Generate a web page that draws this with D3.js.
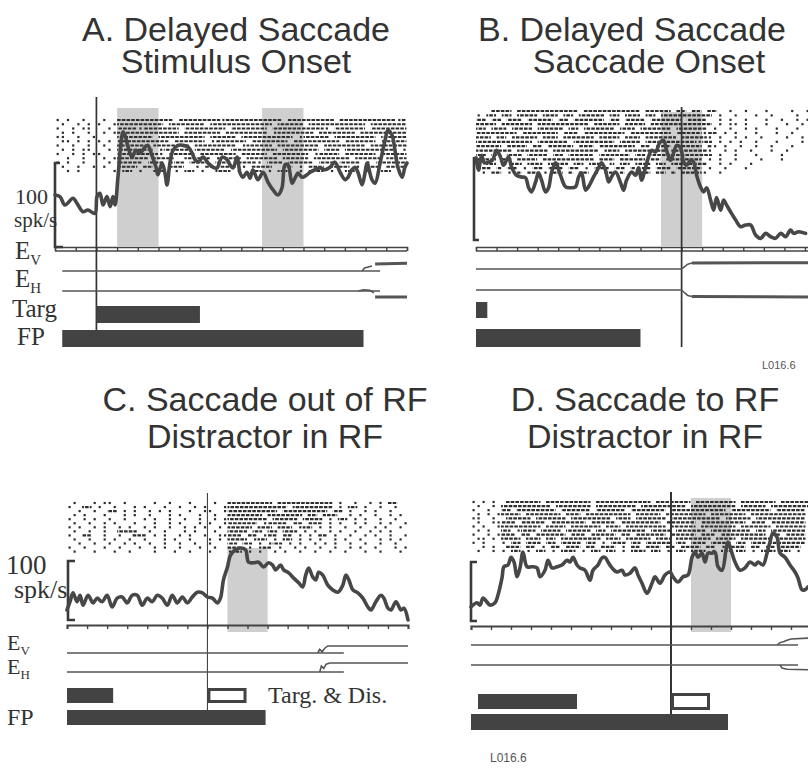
<!DOCTYPE html>
<html><head><meta charset="utf-8">
<script src="https://cdn.jsdelivr.net/npm/d3@7"></script>
<style>body{margin:0;background:#fff}svg{display:block}</style>
</head><body>
<svg id="c" width="808" height="768"></svg>
<script>
// ---------------- DATA ----------------
const titles = [["A. Delayed Saccade","Stimulus Onset"],["B. Delayed Saccade","Saccade Onset"],["C. Saccade out of RF","Distractor in RF"],["D. Saccade to RF","Distractor in RF"]];
const binMs = 25;
// spike density functions [time ms, spikes/s]
const sdfA = [[-200,62],[-176,60],[-152,50],[-113,58],[-94,52],[-65,42],[-41,44],[-7,40],[3,60],[17,64],[32,50],[51,60],[66,48],[80,60],[90,50],[104,83],[119,124],[128,137],[138,133],[153,119],[172,107],[191,115],[211,112],[235,119],[249,121],[268,109],[288,95],[297,86],[317,100],[331,88],[341,74],[355,100],[370,115],[394,121],[418,121],[442,119],[462,112],[476,104],[491,101],[515,107],[539,100],[563,95],[582,94],[607,107],[631,104],[645,98],[660,94],[679,107],[694,88],[708,83],[727,89],[742,82],[756,92],[780,80],[805,89],[829,77],[853,68],[877,62],[896,70],[911,98],[925,98],[945,76],[959,82],[974,88],[993,83],[1017,86],[1032,89],[1056,92],[1080,94],[1104,92],[1128,95],[1152,101],[1177,89],[1201,80],[1215,83],[1234,92],[1249,95],[1263,89],[1283,74],[1297,88],[1307,100],[1331,80],[1346,76],[1370,100],[1394,127],[1408,139],[1428,133],[1442,115],[1457,94],[1476,83],[1490,95],[1500,100]];
const sdfB = [[-1000,99],[-988,84],[-973,102],[-959,93],[-939,94],[-920,96],[-900,108],[-881,100],[-866,90],[-842,100],[-827,88],[-803,78],[-779,76],[-759,75],[-744,63],[-730,58],[-710,70],[-696,81],[-681,72],[-662,58],[-647,63],[-633,81],[-613,93],[-589,78],[-564,64],[-540,63],[-516,64],[-501,76],[-487,81],[-467,60],[-453,64],[-428,76],[-404,87],[-389,93],[-370,84],[-355,70],[-341,76],[-321,82],[-297,69],[-282,60],[-268,72],[-243,82],[-224,78],[-209,87],[-195,72],[-175,88],[-161,100],[-146,108],[-127,106],[-107,117],[-88,120],[-73,108],[-54,96],[-39,105],[-24,114],[-5,111],[10,94],[24,90],[44,96],[58,94],[73,78],[92,64],[107,58],[122,63],[141,48],[156,36],[170,51],[190,36],[204,48],[219,42],[238,34],[263,24],[287,16],[311,18],[336,18],[360,6],[384,2],[409,8],[433,4],[457,2],[482,8],[506,4],[530,12],[545,8],[569,10],[603,8]];
const sdfC = [[-700,17],[-685,31],[-670,46],[-650,31],[-635,42],[-620,25],[-595,42],[-570,29],[-550,37],[-525,31],[-500,42],[-475,22],[-450,37],[-425,39],[-400,29],[-375,42],[-350,42],[-325,25],[-300,37],[-275,31],[-250,42],[-225,37],[-200,25],[-175,42],[-150,29],[-125,39],[-100,29],[-75,39],[-50,47],[-25,46],[0,39],[25,37],[50,29],[65,37],[80,68],[100,90],[115,110],[140,119],[165,122],[190,119],[205,98],[230,97],[255,98],[280,90],[305,97],[325,93],[340,85],[365,93],[380,85],[405,80],[430,71],[455,63],[475,56],[490,76],[505,88],[525,73],[540,68],[555,81],[575,76],[600,59],[625,51],[650,47],[675,59],[690,76],[705,68],[725,51],[750,46],[775,37],[800,22],[815,17],[840,31],[865,42],[880,37],[900,20],[915,17],[940,31],[965,17],[980,20],[1000,0]];
const sdfD = [[-1000,24],[-970,31],[-955,27],[-940,39],[-920,32],[-905,27],[-880,31],[-865,44],[-845,73],[-835,92],[-815,95],[-800,108],[-785,100],[-770,75],[-755,90],[-740,117],[-720,92],[-695,92],[-670,90],[-655,75],[-630,86],[-615,103],[-595,90],[-570,92],[-545,95],[-520,103],[-505,100],[-490,108],[-470,95],[-455,90],[-430,86],[-405,69],[-390,86],[-365,95],[-345,107],[-330,108],[-315,100],[-295,90],[-270,83],[-245,86],[-230,78],[-205,81],[-180,90],[-165,78],[-145,64],[-120,47],[-95,64],[-80,75],[-55,64],[-30,78],[-5,83],[10,75],[35,66],[60,75],[85,78],[105,108],[120,117],[135,108],[155,115],[170,100],[185,115],[205,115],[220,117],[235,92],[255,86],[275,120],[285,134],[305,115],[320,100],[345,86],[370,90],[395,100],[420,95],[435,100],[460,95],[480,115],[495,134],[510,149],[530,142],[545,115],[570,108],[595,95],[620,83],[635,73],[655,53],[670,53],[685,58]];

// rasters: one string per trial, one char per 25 ms bin ('#' burst of spikes, '.' single spike)
const rasterA_pre = [". .  .  ."," .  . . ",".  . .. "," . .  . ","..  .  ."," .. . . ",".  .  . "," . . .. ",".  . . .","  .  .  ",". .  .  "," .  .  .","  . .   "];
const rasterA_lat = [" .  ",".  .","  . "," . .","    ",". . "," .  ","  . ",".   "," . .","  . "," .  ","   ."];
const rasterA_resp = ["########### ########.########### ######### ###########.#","######### ####### ############ ##### ########### #######","####.####### ######## ####### ##########. ###### #######","############ ####### ######## .####### ####### #########","####### ######### ##### ########## .##### ######## #####","########## ###### .###### ####### ######### ###### #####","###### ####### ######## .##### ######## ######## #######","####### .##### ###### ######### ####### ### ########## .","########. ##### ####### ##### ####### .#### ###### #####","###### ####  ##### .#### ###### ##### ####### ##### ####","##### ### .## #### ### ####. ### ##### ### #### . ######","#### ## . ###  . ## ### . ####  ## . ### #### .  ## ####"," ## .  ##  . ## .  ### .  ## . ##  . ### .  ##  .  ## . "];
const rasterB_pre = ["   #### ############ ########### ##### ## ##",". ## ## #### ### ## ##### ## ### ## ########","## ## ### ##### ## ###### ## #### ###### ###","#### ###### ########## ##### #### ##########","## ### #### ##### ## ###### ### ###### #####","######## ####### ### ######## ######## #####","### ## ##### ### ###### #### ### ###### ####","########### ###### ######## #### ##########.","##### #### ## ##### ### ####### ## ### #####","####### ###### ######### ### ######## ######","## ## ### #### ## ##### ###### ## ##########","#### ## #### ########## ### ##### ## #######",". ## # ## ### #### ## ### # ## ### ## ######","### # ## . ## ### ## . ### ## # ## ### #####"," . ## . # ## . ## # ## . ## # . ## ## # ####"];
const rasterB_post = [" ##  .  .   .    .  . ","## .  .   .  .    .  .","#  . .  .   .  .  . . ","## . .. .   .   .  .  ","# .  .  . .   .   .  .",".## . .   .   .  .    ","#. .  . .  .    .  .  ","## . . .  .   .    . ."," #. .  .  .  .   .    ","#.  . .  .   .  .     ","## .  .   .    .      "," . .  .    .   .      ","#  . .   .            "," .  .   .             ",".  .                  "];
const rasterC_pre = [" .   . ..  .     .  .   .    .  ",".  ## .  .   . .   .  .  . .   .","  .  .  ## . .  . . .   .  ..  ."," . .   .   . .  .   . .   .  . ",".  . .  .  .   . .  .  .  .  . ."," .  .  . .   .   .  . .   . .  .",". .  . .  . .  . .  .  . . .  . "," .  .  .  ####  .  .   . .   .  ",".  ##  .  .  ### . .  . .  .  .."," .  .  . .  .  .   . .  .   . .","  .  .  .  . .  .  .  .  .  .  ",".  .   .  .   .  . .  .   .  . "," .   .   .  .    .   .  .   .  "];
const rasterC_post = ["######### ########### .  .  . . ##  ","############ ######## . ## .  .  .  ","########## ######### ## .  . .  .   ","####### ####### ## ###  . .  .  . . ","######## ##### #### . ## . .  .  .  ","###### .#### ## ### . .  . .  . .  .","##### ### ### .## . .  .  .  . .  . ","#### ## ## ### . .  . .  .  . . .  ","### ## .## ## . . ## .  .  . .  .  .","#### .## . ## . . .  . .  .   . . . ","## ## . .## . .  . . .  .  .  .  .  ","### . .## .  . .  .  .  . .  .   . .",".## . .  . .  .  .  .  .   .  .   . "];
const rasterD_pre = [". . . "," .  . ",".  .  "," . . .","..  . "," .  ..",". .  ."," . .  ",".  . ."," .. . ",". .   ","  . . "," .  . "];
const rasterD_post = [" ####### ######### ########### ####### ######## ####### ######","########## ####### ######## ######### ######### ##### ########","## ######## ###### ###### ####### ########### ######## ######","#### ####### ### ######### ##### ######## ####### ###########"," ##### ###### ######## ### ###### ########## ##### ##########","### ##### ####### ##### ######## ###### ######### ### #######","######## #### ###### ### ######## ##### ####### ###### ######","## .### #### ##### ## ####### #### ###### ######## ## #######","### ## ###### ### ##### ## ###### ##### ### ######### ## ####","#### ### ## ######## ### ##### ### ####### #### ###### ######",". ## ### ## #### ## . ### ## ##### ## ### #### ## ### #######"," ### ## . ## ### ## ### . ## ### ## #### ## . ### ## ## ####",". ## . ## . ### . ## ## . ### ## . ## ### . ## ## . ### ## ."];

// shaded analysis windows (ms)
const shadeA = [[100,300],[800,1000]];
const shadeB = [[-100,100]];
const shadeC = [[100,300]];
const shadeD = [[100,300]];
// stimulus bars (ms)
const targA = [0,500], fpA = [-165,1290];
const targB = [-1000,-945], fpB = [-1000,-200];
const targC = [-700,-470], tdC = [0,195], fpC = [-700,290];
const targD = [-965,-470], tdD = [0,195], fpD = [-1000,285];
// eye position traces [ms, deg]
const eyeA_V = [[[-165,0],[1370,0]],[[1283,0],[1295,5],[1331,8.3]]], eyeA_Vsac = [[[1346,11.7],[1500,13]]];
const eyeA_H = [[[-165,0],[1370,0]],[[1265,0],[1290,2],[1320,1],[1340,-3]]], eyeA_Hsac = [[[1346,-10],[1500,-10]]];
const eyeB_V = [[[-1000,0],[0,0],[15,4],[30,8],[50,10]]], eyeB_Vsac = [[[50,10],[650,10.5]]];
const eyeB_H = [[[-1000,0],[0,0],[15,-5],[30,-9],[50,-11]]], eyeB_Hsac = [[[50,-11],[650,-11.5]]];
const eyeC_V = [[[-700,0],[680,0]],[[550,0],[560,6],[572,2],[585,8],[600,11.7],[1000,11.7]]], eyeC_Vsac = [];
const eyeC_H = [[[-700,0],[680,0]],[[560,0],[568,10],[580,6],[592,13],[610,15],[1000,15]]], eyeC_Hsac = [];
const eyeD_V = [[[-1000,0],[635,0]],[[530,0],[545,4],[565,6],[580,8],[600,10],[700,11.7]]], eyeD_Vsac = [];
const eyeD_H = [[[-1000,0],[635,0]],[[545,0],[555,-5],[580,-7],[700,-8]]], eyeD_Hsac = [];

// ---------------- DRAW ----------------
const svg = d3.select("#c");
const serif = "'Liberation Serif','Times New Roman',serif";
const sans = "'Liberation Sans',Arial,Helvetica,sans-serif";

function join(a,b,c,la,lb,lc){return a.map((s,i)=>s.padEnd(la).slice(0,la)+(b[i]||"").padEnd(lb).slice(0,lb)+(c? (c[i]||"").padEnd(lc).slice(0,lc):""));}

const panels = [
 {t0:-200,t1:1500,xr:[55,407],y0:247,y100:163,rows:join(rasterA_pre,rasterA_lat,rasterA_resp,8,4,56),rowTop:120,rowStep:4.25,
  shades:shadeA,shadeY:[108,246],sdf:sdfA,axis:"rail",axisY:247,ticks:d3.range(-200,1501,100),sbX:55,sbT1:5,sbT2:8,
  ev:[97,330],evW:1.7,eV:271,eH:291,eyeV:eyeA_V,eyeVs:eyeA_Vsac,eyeH:eyeA_H,eyeHs:eyeA_Hsac,
  bars:[[targA,306,323],[fpA,330,347]],hollow:null},
 {t0:-1000,t1:650,xr:[476,476+1650*0.2056],y0:240,y100:157,rows:join(rasterB_pre,rasterB_post,null,44,22),rowTop:111,rowStep:4.4,
  shades:shadeB,shadeY:[112,246],sdf:sdfB,axis:"rail",axisY:247,ticks:d3.range(-1000,651,100),sbX:474,sbT1:0,sbT2:5,
  ev:[107,347],evW:1.7,eV:269,eH:290,eyeV:eyeB_V,eyeVs:eyeB_Vsac,eyeH:eyeB_H,eyeHs:eyeB_Hsac,
  bars:[[targB,302,318],[fpB,329,347]],hollow:null},
 {t0:-700,t1:1000,xr:[67,408],y0:620,y100:561,rows:join(rasterC_pre,rasterC_post,null,32,36),rowTop:503,rowStep:4.05,
  shades:shadeC,shadeY:[548,632],sdf:sdfC,axis:"tick",axisY:625,ticks:d3.range(-700,1001,100),sbX:68,sbT1:7,sbT2:7,
  ev:[493,710],evW:1,eV:653,eH:672,eyeV:eyeC_V,eyeVs:eyeC_Vsac,eyeH:eyeC_H,eyeHs:eyeC_Hsac,
  bars:[[targC,688,703],[fpC,710,725]],hollow:[tdC,688,703]},
 {t0:-1000,t1:700,xr:[471,811],y0:621,y100:562,rows:join(rasterD_pre,rasterD_post,null,6,62),rowTop:502,rowStep:4.08,
  shades:shadeD,shadeY:[498,632],sdf:sdfD,axis:"tick",axisY:626,ticks:d3.range(-1000,701,100),sbX:471,sbT1:6,sbT2:6,
  ev:[492,716],evW:2,eV:645,eH:665,eyeV:eyeD_V,eyeVs:eyeD_Vsac,eyeH:eyeD_H,eyeHs:eyeD_Hsac,
  bars:[[targD,694,709],[fpD,714,730]],hollow:[tdD,693,710]}
];

panels.forEach(p=>{
  const g = svg.append("g");
  const x = d3.scaleLinear().domain([p.t0,p.t1]).range(p.xr);
  const y = d3.scaleLinear().domain([0,100]).range([p.y0,p.y100]);
  // shading
  g.selectAll(null).data(p.shades).join("rect")
    .attr("x",d=>x(d[0])).attr("width",d=>x(d[1])-x(d[0]))
    .attr("y",p.shadeY[0]).attr("height",p.shadeY[1]-p.shadeY[0]).attr("fill","#cfcfcf");
  // raster
  const rg = g.append("g");
  p.rows.forEach((s,r)=>{
    const yy = p.rowTop + r*p.rowStep;
    let i=0;
    while(i<s.length){
      const c=s[i];
      if(c==="#"){
        let j=i; while(j<s.length && s[j]==="#") j++;
        rg.append("line").attr("x1",x(p.t0+i*binMs)).attr("x2",x(p.t0+j*binMs)-0.5)
          .attr("y1",yy).attr("y2",yy).attr("stroke","#2e2e2e").attr("stroke-width",2.2)
          .attr("stroke-dasharray","3.6,1.1").attr("stroke-dashoffset",(r*1.7)%4.7);
        i=j;
      } else {
        if(c===".") rg.append("rect").attr("x",x(p.t0+i*binMs+binMs/2)-1).attr("y",yy-1.1).attr("width",2.2).attr("height",2.2).attr("fill","#2e2e2e");
        i++;
      }
    }
  });
  // axis
  const ax = d3.axisBottom(x).tickValues(p.ticks).tickFormat("").tickSizeOuter(0).tickSize(4);
  const ag = g.append("g").attr("transform",`translate(0,${p.axisY})`).call(ax);
  ag.select(".domain").attr("stroke","#444").attr("stroke-width",p.axis==="rail"?1.4:2);
  ag.selectAll(".tick line").attr("stroke","#444").attr("stroke-width",1.4);
  if(p.axis==="rail"){
    g.append("line").attr("x1",x(p.ticks[0])).attr("x2",x(p.t1)).attr("y1",p.axisY+4).attr("y2",p.axisY+4).attr("stroke","#444").attr("stroke-width",1.4);
  }
  // scale bar (100 spk/s)
  g.append("path").attr("d",`M${p.sbX+p.sbT1},${y(100)}H${p.sbX}V${y(0)}H${p.sbX+p.sbT2}`)
    .attr("fill","none").attr("stroke","#3a3a3a").attr("stroke-width",2.6);
  // event line
  g.append("line").attr("x1",x(0)).attr("x2",x(0)).attr("y1",p.ev[0]).attr("y2",p.ev[1]).attr("stroke","#333").attr("stroke-width",p.evW);
  // SDF
  g.append("path").datum(p.sdf)
    .attr("d",d3.line().x(d=>x(d[0])).y(d=>y(d[1])).curve(d3.curveCatmullRom.alpha(0.5)))
    .attr("fill","none").attr("stroke","#474747").attr("stroke-width",3.6).attr("stroke-linejoin","round").attr("stroke-linecap","round");
  // eye traces
  const eyeLine = base => d3.line().x(d=>x(d[0])).y(d=>base - d[1]*0.6);
  [[p.eyeV,p.eV,1.6],[p.eyeVs,p.eV,3],[p.eyeH,p.eH,1.6],[p.eyeHs,p.eH,3]].forEach(([segs,base,w])=>{
    segs.forEach(sg=>g.append("path").datum(sg).attr("d",eyeLine(base)).attr("fill","none").attr("stroke","#555").attr("stroke-width",w));
  });
  // bars
  p.bars.forEach(([b,y1,y2])=>{
    g.append("rect").attr("x",x(b[0])).attr("width",x(b[1])-x(b[0])).attr("y",y1).attr("height",y2-y1).attr("fill","#434343");
  });
  if(p.hollow){
    const [b,y1,y2]=p.hollow;
    g.append("rect").attr("x",x(b[0])+1.5).attr("width",x(b[1])-x(b[0])-3).attr("y",y1+1.5).attr("height",y2-y1-3)
      .attr("fill","#fff").attr("stroke","#434343").attr("stroke-width",3);
  }
});

// titles (centered)
const titlePos = [[236,41,73],[632,41,73],[265,411,448],[645,411,448]];
const title2X = [236,649,265,645];
titles.forEach((t,i)=>{
  const tp=titlePos[i];
  svg.append("text").attr("x",tp[0]).attr("y",tp[1]).attr("text-anchor","middle")
    .text(t[0]).attr("font-family",sans).attr("font-size",34).attr("fill","#333");
  svg.append("text").attr("x",title2X[i]).attr("y",tp[2]).attr("text-anchor","middle")
    .text(t[1]).attr("font-family",sans).attr("font-size",34).attr("fill","#333");
});

// labels
function lab(txt,x,y,size,sub,subSize){
  const t=svg.append("text").attr("x",x).attr("y",y).attr("font-family",serif).attr("font-size",size).attr("fill","#333").text(txt);
  if(sub) t.append("tspan").attr("dy",size*0.22).attr("font-size",subSize).text(sub);
}
lab("100",15,204,22); lab("spk/s",14,227,21);
lab("E",15,259,25,"V",15); lab("E",15,287,25,"H",15);
lab("Targ",12,317,25); lab("FP",17,345,25);
lab("100",6,574,27); lab("spk/s",14,598,26);
lab("E",7,650,22,"V",13); lab("E",7,674,22,"H",13);
lab("FP",7,725,24);
lab("Targ. & Dis.",268,703,24);
svg.append("text").attr("x",762).attr("y",369).attr("font-family",sans).attr("font-size",11).attr("fill","#555").text("L016.6");
svg.append("text").attr("x",490).attr("y",762).attr("font-family",sans).attr("font-size",12).attr("fill","#555").text("L016.6");
</script>
</body></html>
